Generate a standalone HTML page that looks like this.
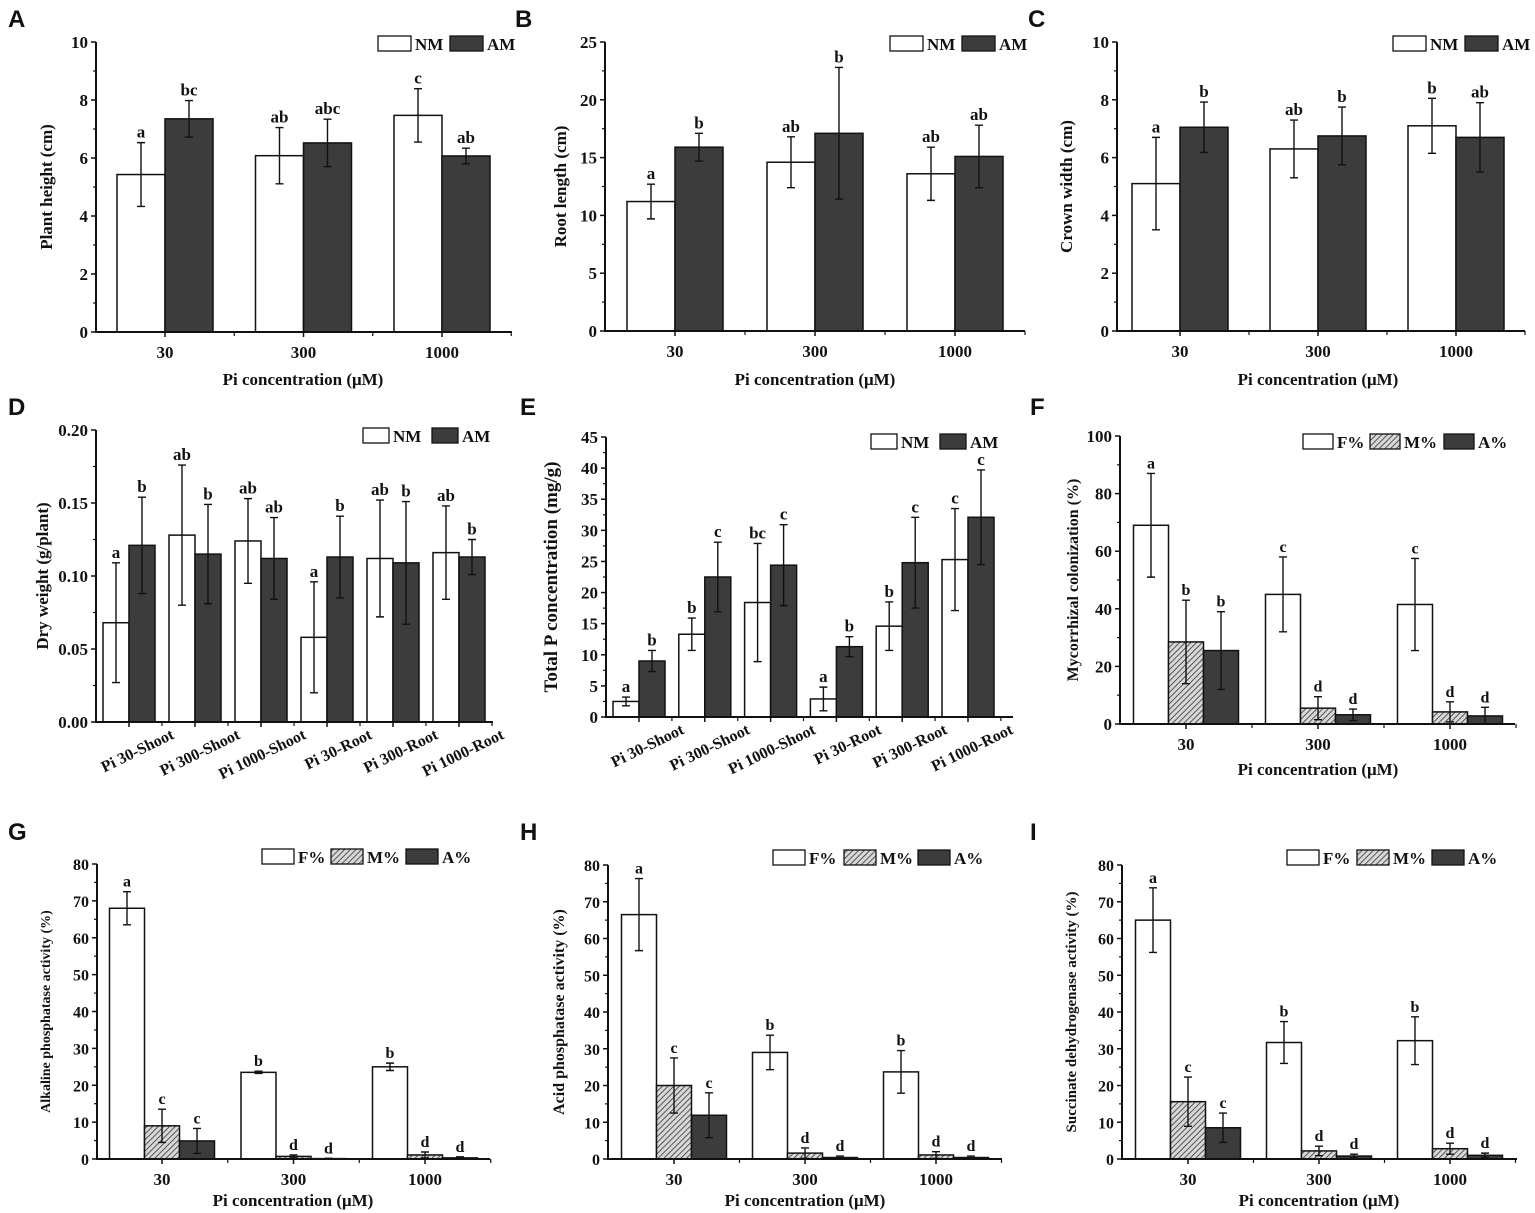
<!DOCTYPE html>
<html><head><meta charset="utf-8">
<style>
html,body{margin:0;padding:0;background:#fff;}
svg{display:block;}
text{font-family:"Liberation Serif",serif;font-weight:bold;fill:#111;}
.pl{font-family:"Liberation Sans",sans-serif;font-size:24px;}
</style></head>
<body>
<svg id="fig" width="1535" height="1213" viewBox="0 0 1535 1213" xmlns="http://www.w3.org/2000/svg">
<defs>
<pattern id="hatch" patternUnits="userSpaceOnUse" width="4" height="4" patternTransform="rotate(45)">
<rect width="4" height="4" fill="#d8d8d8"/>
<line x1="0" y1="0" x2="0" y2="4" stroke="#333" stroke-width="1.6"/>
</pattern>
</defs>
</svg>
<script>
// ---- Data ----
const catsPi = ["30","300","1000"];
const catsTissue = ["Pi 30-Shoot","Pi 300-Shoot","Pi 1000-Shoot","Pi 30-Root","Pi 300-Root","Pi 1000-Root"];
const seriesNMAM = ["NM","AM"];
const seriesFMA = ["F%","M%","A%"];

const aNM=[5.43,6.08,7.47], aNMerr=[1.1,0.97,0.92], aAM=[7.35,6.52,6.07], aAMerr=[0.63,0.82,0.27];
const aNMlab=["a","ab","c"], aAMlab=["bc","abc","ab"];
const aTicks=[0,2,4,6,8,10];

const bNM=[11.2,14.6,13.6], bNMerr=[1.5,2.2,2.3], bAM=[15.9,17.1,15.1], bAMerr=[1.2,5.7,2.7];
const bNMlab=["a","ab","ab"], bAMlab=["b","b","ab"];
const bTicks=[0,5,10,15,20,25];

const cNM=[5.1,6.3,7.1], cNMerr=[1.6,1.0,0.95], cAM=[7.05,6.75,6.7], cAMerr=[0.87,1.0,1.2];
const cNMlab=["a","ab","b"], cAMlab=["b","b","ab"];
const cTicks=[0,2,4,6,8,10];

const dNM=[0.068,0.128,0.124,0.058,0.112,0.116], dNMerr=[0.041,0.048,0.029,0.038,0.040,0.032];
const dAM=[0.121,0.115,0.112,0.113,0.109,0.113], dAMerr=[0.033,0.034,0.028,0.028,0.042,0.012];
const dNMlab=["a","ab","ab","a","ab","ab"], dAMlab=["b","b","ab","b","b","b"];
const dTicks=["0.00","0.05","0.10","0.15","0.20"];

const eNM=[2.5,13.3,18.4,2.9,14.6,25.3], eNMerr=[0.7,2.6,9.5,1.9,3.9,8.2];
const eAM=[9.0,22.5,24.4,11.3,24.8,32.1], eAMerr=[1.7,5.6,6.5,1.6,7.3,7.6];
const eNMlab=["a","b","bc","a","b","c"], eAMlab=["b","c","c","b","c","c"];
const eTicks=[0,5,10,15,20,25,30,35,40,45];

const fF=[69,45,41.5], fFerr=[18,13,16], fM=[28.5,5.5,4.2], fMerr=[14.5,4,3.5], fA=[25.5,3.2,2.8], fAerr=[13.5,2,3];
const fFlab=["a","c","c"], fMlab=["b","d","d"], fAlab=["b","d","d"];
const fTicks=[0,20,40,60,80,100];

const gF=[68,23.5,25], gFerr=[4.5,0.3,1], gM=[9,0.7,1.1], gMerr=[4.5,0.4,0.8], gA=[4.9,0.1,0.3], gAerr=[3.4,0.1,0.3];
const gFlab=["a","b","b"], gMlab=["c","d","d"], gAlab=["c","d","d"];
const hF=[66.5,29,23.7], hFerr=[9.8,4.7,5.8], hM=[20,1.6,1.1], hMerr=[7.5,1.4,0.9], hA=[11.9,0.4,0.4], hAerr=[6.1,0.4,0.4];
const hFlab=["a","b","b"], hMlab=["c","d","d"], hAlab=["c","d","d"];
const iF=[65,31.7,32.2], iFerr=[8.8,5.7,6.5], iM=[15.6,2.2,2.8], iMerr=[6.7,1.3,1.5], iA=[8.5,0.8,1], iAerr=[4,0.5,0.6];
const iFlab=["a","b","b"], iMlab=["c","d","d"], iAlab=["c","d","d"];
const pctTicks=[0,10,20,30,40,50,60,70,80];

// ---- Rendering ----
const NS="http://www.w3.org/2000/svg";
const svg=document.getElementById('fig');
function mk(tag,attrs,parent){const e=document.createElementNS(NS,tag);for(const k in attrs)e.setAttribute(k,attrs[k]);(parent||svg).appendChild(e);return e;}
const fills=["#fff","url(#hatch)","#3c3c3c"];
const fills2=["#fff","#3c3c3c"];

function panel(p){
  const g=mk('g',{});
  
  
  const vmax=p.vmax;
  const y=v=>p.yb-(v/vmax)*(p.yb-p.yt);
  const xc=i=>p.c0+i*p.step;
  const t=mk('text',{x:p.lx,y:p.ly,class:'pl'},g);t.textContent=p.id;
  
  
  const ns=p.series.length;
  const bw=p.bw;
  p.series.forEach((s,si)=>{
    const off=ns===2?(si===0?-bw:0):(-1.5*bw+si*bw);
    const fill=ns===2?fills2[si]:fills[si];
    s.vals.forEach((v,i)=>{
      const x=xc(i)+off;
      const r=mk('rect',{x:x,y:y(v),width:bw,height:p.yb-y(v),fill:fill,stroke:'#111','stroke-width':1.5},g);
      
      
      const cx=x+bw/2, e=s.err[i];
      const top=y(v+e), bot=y(Math.max(0,v-e));
      const eb=mk('path',{d:`M${cx},${top}V${bot}M${cx-4},${top}H${cx+4}M${cx-4},${bot}H${cx+4}`,stroke:'#111','stroke-width':1.4,fill:'none'},g);
      
      
      const lt=mk('text',{x:cx,y:top-5,'text-anchor':'middle','font-size':p.lf||17},g);lt.textContent=s.labs[i];
      
      
    });
  });
  mk('path',{d:`M${p.x0},${p.yt}V${p.yb}H${p.xEnd}`,stroke:'#111','stroke-width':2,fill:'none'},g);
  p.ticks.forEach((tv,k)=>{
    const v=parseFloat(tv);const yy=y(v);
    mk('line',{x1:p.x0-5,x2:p.x0,y1:yy,y2:yy,stroke:'#111','stroke-width':1.5},g);
    if(k<p.ticks.length-1){const ym=y((v+parseFloat(p.ticks[k+1]))/2);mk('line',{x1:p.x0-3,x2:p.x0,y1:ym,y2:ym,stroke:'#111','stroke-width':1.2},g);}
    const tl=mk('text',{x:p.x0-8,y:yy+6,'text-anchor':'end','font-size':p.tf||17},g);tl.textContent=tv;
    
    
  });
  p.cats.forEach((c,i)=>{
    const x=xc(i);
    mk('line',{x1:x,x2:x,y1:p.yb,y2:p.yb+5,stroke:'#111','stroke-width':1.5},g);
    mk('line',{x1:x+p.step/2,x2:x+p.step/2,y1:p.yb,y2:p.yb+4,stroke:'#111','stroke-width':1.2},g);
    let tl;
    if(p.rot){
      tl=mk('text',{x:x+46,y:p.yb+16,'text-anchor':'end','font-size':16,transform:`rotate(-26 ${x+46} ${p.yb+16})`},g);
    }else{
      tl=mk('text',{x:x,y:p.yb+26,'text-anchor':'middle','font-size':17},g);
    }
    tl.textContent=c;
    
    
  });
  const yt=mk('text',{x:p.ytx,y:(p.yt+p.yb)/2,'text-anchor':'middle','font-size':p.ytf||17,transform:`rotate(-90 ${p.ytx} ${(p.yt+p.yb)/2})`},g);
  yt.textContent=p.ytitle;
  
  
  if(p.xtitle){
    const xt=mk('text',{x:p.xtx,y:p.xty,'text-anchor':'middle','font-size':17},g);xt.textContent=p.xtitle;
    
    
  }
  p.series.forEach((s,si)=>{
    const lx=p.legX[si];
    const fill=ns===2?fills2[si]:fills[si];
    const lr=mk('rect',{x:lx,y:p.legY,width:p.legW,height:15,fill:fill,stroke:'#111','stroke-width':1.3},g);
    
    
    const lt=mk('text',{x:lx+p.legW+4,y:p.legY+14,'font-size':17},g);lt.textContent=s.name;
    
    
  });
}
const XT="Pi concentration (\u03bcM)";
panel({id:'A',lx:8,ly:27,x0:96,yt:42,yb:332,xEnd:512,vmax:10,c0:165,step:138.5,bw:48,cats:catsPi,ticks:aTicks,
  series:[{name:seriesNMAM[0],vals:aNM,err:aNMerr,labs:aNMlab},{name:seriesNMAM[1],vals:aAM,err:aAMerr,labs:aAMlab}],
  ytx:52,ytitle:"Plant height (cm)",xtx:303,xty:385,xtitle:XT,legX:[378,450],legY:36,legW:33});
panel({id:'B',lx:515,ly:27,x0:605,yt:42,yb:331,xEnd:1025,vmax:25,c0:675,step:140,bw:48,cats:catsPi,ticks:bTicks,
  series:[{name:seriesNMAM[0],vals:bNM,err:bNMerr,labs:bNMlab},{name:seriesNMAM[1],vals:bAM,err:bAMerr,labs:bAMlab}],
  ytx:566,ytitle:"Root length (cm)",xtx:815,xty:385,xtitle:XT,legX:[890,962],legY:36,legW:33});
panel({id:'C',lx:1028,ly:27,x0:1117,yt:42,yb:331,xEnd:1525,vmax:10,c0:1180,step:138,bw:48,cats:catsPi,ticks:cTicks,
  series:[{name:seriesNMAM[0],vals:cNM,err:cNMerr,labs:cNMlab},{name:seriesNMAM[1],vals:cAM,err:cAMerr,labs:cAMlab}],
  ytx:1072,ytitle:"Crown width (cm)",xtx:1318,xty:385,xtitle:XT,legX:[1393,1465],legY:36,legW:33});
panel({id:'D',lx:8,ly:415,x0:96,yt:430,yb:722,xEnd:493,vmax:0.2,c0:129,step:66,bw:26,cats:catsTissue,ticks:dTicks,rot:true,
  series:[{name:seriesNMAM[0],vals:dNM,err:dNMerr,labs:dNMlab},{name:seriesNMAM[1],vals:dAM,err:dAMerr,labs:dAMlab}],
  ytx:48,ytitle:"Dry weight (g/plant)",legX:[363,432],legY:428,legW:26});
panel({id:'E',lx:520,ly:415,x0:606,yt:437,yb:717,xEnd:1013,vmax:45,c0:639,step:65.8,bw:26,cats:catsTissue,ticks:eTicks,rot:true,
  series:[{name:seriesNMAM[0],vals:eNM,err:eNMerr,labs:eNMlab},{name:seriesNMAM[1],vals:eAM,err:eAMerr,labs:eAMlab}],
  ytx:557,ytf:19,ytitle:"Total P concentration (mg/g)",legX:[871,940],legY:434,legW:26});
panel({id:'F',lx:1030,ly:415,x0:1120,yt:436,yb:724,xEnd:1515,vmax:100,c0:1186,step:132,bw:35,cats:catsPi,ticks:fTicks,lf:16,
  series:[{name:seriesFMA[0],vals:fF,err:fFerr,labs:fFlab},{name:seriesFMA[1],vals:fM,err:fMerr,labs:fMlab},{name:seriesFMA[2],vals:fA,err:fAerr,labs:fAlab}],
  ytx:1078,ytf:16,ytitle:"Mycorrhizal colonization (%)",xtx:1318,xty:775,xtitle:XT,legX:[1303,1370,1444],legY:434,legW:30});
panel({id:'G',lx:8,ly:840,x0:97,yt:864,yb:1159,xEnd:490,vmax:80,c0:162,step:131.5,bw:35,cats:catsPi,ticks:pctTicks,lf:16,tf:16,
  series:[{name:seriesFMA[0],vals:gF,err:gFerr,labs:gFlab},{name:seriesFMA[1],vals:gM,err:gMerr,labs:gMlab},{name:seriesFMA[2],vals:gA,err:gAerr,labs:gAlab}],
  ytx:50,ytf:14,ytitle:"Alkaline phosphatase activity (%)",xtx:293,xty:1206,xtitle:XT,legX:[262,331,406],legY:849,legW:32});
panel({id:'H',lx:520,ly:840,x0:608,yt:865,yb:1159,xEnd:1002,vmax:80,c0:674,step:131,bw:35,cats:catsPi,ticks:pctTicks,lf:16,tf:16,
  series:[{name:seriesFMA[0],vals:hF,err:hFerr,labs:hFlab},{name:seriesFMA[1],vals:hM,err:hMerr,labs:hMlab},{name:seriesFMA[2],vals:hA,err:hAerr,labs:hAlab}],
  ytx:564,ytf:16,ytitle:"Acid phosphatase activity (%)",xtx:805,xty:1206,xtitle:XT,legX:[773,844,918],legY:850,legW:32});
panel({id:'I',lx:1030,ly:840,x0:1122,yt:865,yb:1159,xEnd:1517,vmax:80,c0:1188,step:131,bw:35,cats:catsPi,ticks:pctTicks,lf:16,tf:16,
  series:[{name:seriesFMA[0],vals:iF,err:iFerr,labs:iFlab},{name:seriesFMA[1],vals:iM,err:iMerr,labs:iMlab},{name:seriesFMA[2],vals:iA,err:iAerr,labs:iAlab}],
  ytx:1076,ytf:15,ytitle:"Succinate dehydrogenase activity (%)",xtx:1319,xty:1206,xtitle:XT,legX:[1287,1357,1432],legY:850,legW:32});
</script>
</body></html>
